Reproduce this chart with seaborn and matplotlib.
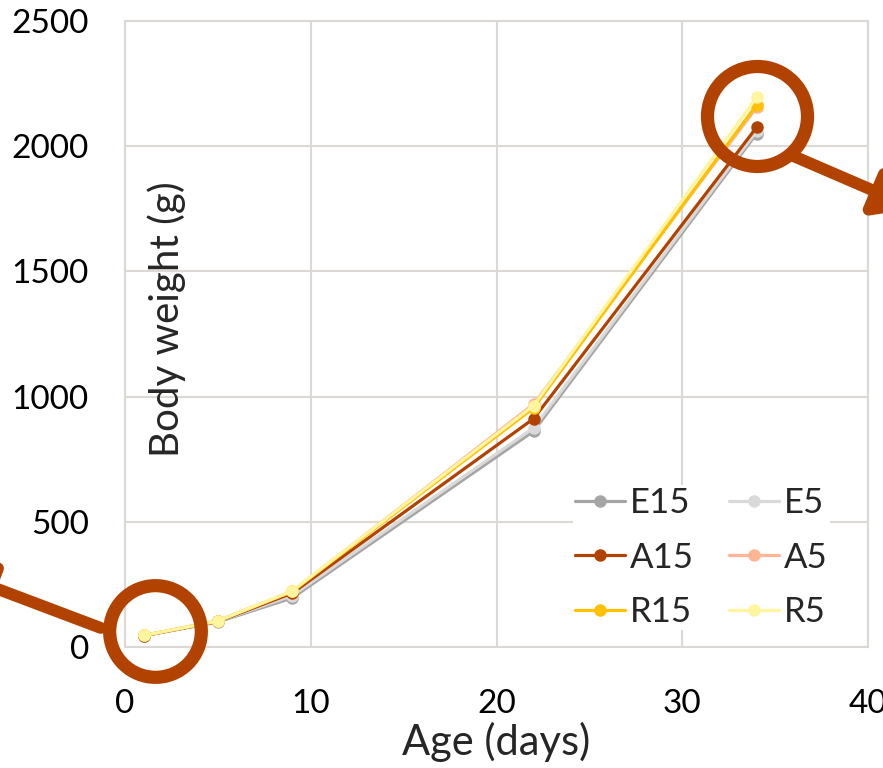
import pandas as pd
import matplotlib
matplotlib.use("Agg")
import matplotlib.pyplot as plt
import seaborn as sns

# ages (days) at weighing
days = [1, 5, 9, 22, 34]

# body weight (g) per group
groups = ["E15", "E5", "A15", "A5", "R15", "R5"]
E15 = [45, 100, 196, 862, 2050]
E5 = [45, 102, 205, 875, 2060]
A15 = [45, 102, 215, 912, 2075]
A5 = [46, 104, 222, 970, 2155]
R15 = [46, 104, 222, 955, 2165]
R5 = [46, 104, 224, 964, 2195]

colors = ["#a5a5a5", "#d9d9d9", "#b24200", "#ffb496", "#ffc000", "#fff59e"]
accent = "#b24200"
grid_color = "#dcd8d4"

rows = []
for g, vals in zip(groups, [E15, E5, A15, A5, R15, R5]):
    for d, v in zip(days, vals):
        rows.append({"day": d, "weight": v, "group": g})
df = pd.DataFrame(rows)

sns.set_style("white")
plt.rcParams["font.family"] = ["Lato", "DejaVu Sans"]

fig = plt.figure(figsize=(8.83, 7.68), dpi=100)
ax = fig.add_axes([125 / 883, 1 - 647 / 768, 743 / 883, 626 / 768])

sns.lineplot(
    data=df, x="day", y="weight", hue="group", hue_order=groups,
    palette=dict(zip(groups, colors)), marker="o", markersize=9,
    markeredgewidth=0, linewidth=2.3, legend=False, ax=ax
)

ax.set_xlim(0, 40)
ax.set_ylim(0, 2500)
ax.set_xticks([0, 10, 20, 30, 40])
ax.set_yticks([0, 500, 1000, 1500, 2000, 2500])
ax.grid(True, color=grid_color, linewidth=1.5)
ax.set_axisbelow(True)
for s in ax.spines.values():
    s.set_color(grid_color)
    s.set_linewidth(1.5)
    s.set_zorder(10)
ax.tick_params(axis="both", labelsize=24, length=0, colors="black")
ax.tick_params(axis="y", pad=26)
ax.tick_params(axis="x", pad=30)

ax.set_xlabel("Age (days)", fontsize=30, labelpad=2)
ax.set_ylabel("Body weight (g)", fontsize=29)
ax.yaxis.set_label_coords(0.082, 0.523)

# legend, row-wise order in two columns
handles = []
for g, c in zip(groups, colors):
    h, = ax.plot([], [], color=c, marker="o", markersize=9, markeredgewidth=0,
                 linewidth=2.3)
    handles.append(h)
order = [0, 2, 4, 1, 3, 5]
leg = ax.legend([handles[i] for i in order], [groups[i] for i in order],
                ncol=2, loc="upper right", bbox_to_anchor=(0.972, 0.286),
                fontsize=25, frameon=True, framealpha=1, edgecolor="white",
                handlelength=1.45, handletextpad=0.15, columnspacing=1.0,
                labelspacing=0.65, borderpad=0.05, fancybox=False)
leg.get_frame().set_linewidth(0)

# highlight circles and arrows
ax.plot(1.6, 64, marker="o", markersize=66, markerfacecolor="none",
        markeredgecolor=accent, markeredgewidth=9.5, clip_on=False, zorder=11)
ax.plot(34.0, 2120, marker="o", markersize=72, markerfacecolor="none",
        markeredgecolor=accent, markeredgewidth=9.5, clip_on=False, zorder=11)
arrow = dict(arrowstyle="-|>,head_length=1.1,head_width=0.7", color=accent,
             lw=8.5, mutation_scale=20, shrinkA=0, shrinkB=0)
ax.annotate("", xy=(-9.3, 300), xytext=(-1.3, 76), arrowprops=arrow,
            annotation_clip=False, zorder=11)
ax.annotate("", xy=(42.5, 1752), xytext=(36.0, 1960), arrowprops=arrow,
            annotation_clip=False, zorder=11)

fig.savefig("out.png", dpi=100)
